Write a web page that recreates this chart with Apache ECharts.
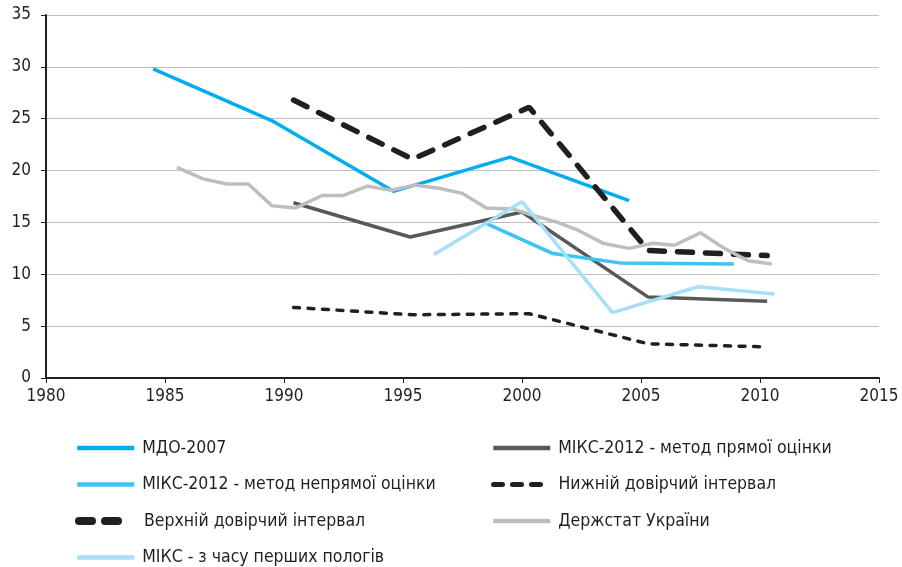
<!DOCTYPE html>
<html>
<head>
<meta charset="utf-8">
<script src="https://cdn.jsdelivr.net/npm/echarts@6/dist/echarts.min.js"></script>
<style>
  html, body { margin: 0; padding: 0; background: #fff; }
  #chart { width: 902px; height: 567px; }
</style>
</head>
<body>
<div id="chart"></div>
<script>
// x ticks / y ticks
const xTicks = [1980, 1985, 1990, 1995, 2000, 2005, 2010, 2015]
const yTicks = [0, 5, 10, 15, 20, 25, 30, 35]

// МДО-2007
const mdoYears = [1984.5, 1989.5, 1994.6, 1999.5, 2004.5]
const mdoValues = [29.8, 24.8, 18.0, 21.3, 17.1]

// МІКС-2012 - метод прямої оцінки
const directYears = [1990.4, 1995.3, 2000.0, 2005.3, 2010.3]
const directValues = [16.9, 13.6, 16.0, 7.8, 7.4]

// МІКС-2012 - метод непрямої оцінки
const indirectYears = [1998.4, 2001.3, 2004.1, 2008.9]
const indirectValues = [15.0, 12.0, 11.1, 11.0]

// Нижній довірчий інтервал
const lowerYears = [1990.4, 1995.4, 2000.3, 2005.3, 2010.3]
const lowerValues = [6.8, 6.1, 6.2, 3.3, 3.0]

// Верхній довірчий інтервал
const upperYears = [1990.4, 1995.4, 2000.3, 2005.3, 2010.3]
const upperValues = [26.8, 21.1, 26.1, 12.3, 11.8]

// Держстат України
const statYears = [1985.5, 1986.6, 1987.6, 1988.5, 1989.5, 1990.5, 1991.6, 1992.5, 1993.5, 1994.5,
  1995.5, 1996.5, 1997.5, 1998.5, 1999.6, 2000.6, 2001.5, 2002.4, 2003.4, 2004.5,
  2005.5, 2006.4, 2007.5, 2008.5, 2009.5, 2010.5]
const statValues = [20.3, 19.2, 18.7, 18.7, 16.6, 16.4, 17.6, 17.6, 18.5, 18.1,
  18.6, 18.3, 17.8, 16.4, 16.3, 15.6, 15.0, 14.2, 13.0, 12.5,
  13.0, 12.8, 14.0, 12.5, 11.3, 11.0]

// МІКС - з часу перших пологів
const firstYears = [1996.3, 2000.0, 2003.8, 2007.4, 2010.6]
const firstValues = [11.9, 17.0, 6.3, 8.8, 8.1]

// legend layout: left column / right column
const legendLeft = ['МДО-2007', 'МІКС-2012 - метод непрямої оцінки', 'Верхній довірчий інтервал', 'МІКС - з часу перших пологів']
const legendRight = ['МІКС-2012 - метод прямої оцінки', 'Нижній довірчий інтервал', 'Держстат України']

function zip(xs, ys) {
  return xs.map((x, i) => [x, ys[i]])
}

const font = '"Liberation Sans Narrow", "DejaVu Sans Condensed", sans-serif'
const textColor = '#231f20'

const chart = echarts.init(document.getElementById('chart'))

function lineSeries(name, data, color, width, type, cap) {
  return {
    name: name,
    type: 'line',
    data: data,
    symbol: 'none',
    showSymbol: false,
    animation: false,
    lineStyle: { color: color, width: width, type: type || 'solid', cap: cap || 'butt' },
    itemStyle: { color: color }
  }
}

// legend icon dashes differ from the plot lines a bit (round caps eat the gaps)
const legendDash = {
  'Верхній довірчий інтервал': { width: 8, type: [13, 13], cap: 'round' },
  'Нижній довірчий інтервал': { width: 5, type: [9, 10], cap: 'round' }
}
// upper CI icon is shorter, text still lines up with the others
const legendIconWidth = { 'Верхній довірчий інтервал': 40 }

// one legend box per entry so the rows keep the reference spacing
function legendItem(name, left, row) {
  const w = legendIconWidth[name] || 57
  return {
    left: left,
    top: 434 + row * 36.5,
    itemWidth: w,
    itemHeight: 14,
    itemStyle: { opacity: 0 },
    lineStyle: legendDash[name] || { width: 4.5 },
    textStyle: { fontFamily: font, fontSize: 17.5, color: textColor, padding: [0, 0, 0, 3 + 57 - w] },
    data: [name]
  }
}

const legends = legendLeft.map((n, i) => legendItem(n, 70, i))
  .concat(legendRight.map((n, i) => legendItem(n, 486, i)))

chart.setOption({
  animation: false,
  grid: { left: 46, right: 23, top: 15, bottom: 189 },
  legend: legends,
  xAxis: {
    type: 'value',
    min: xTicks[0],
    max: xTicks[xTicks.length - 1],
    interval: 5,
    axisLine: { lineStyle: { color: textColor, width: 2 } },
    axisTick: { show: true, length: 5, lineStyle: { color: textColor } },
    splitLine: { show: false },
    axisLabel: { color: textColor, fontFamily: font, fontSize: 17, margin: 10, formatter: v => String(v) }
  },
  yAxis: {
    type: 'value',
    min: yTicks[0],
    max: yTicks[yTicks.length - 1],
    interval: 5,
    axisLine: { show: true, lineStyle: { color: textColor, width: 2 } },
    axisTick: { show: true, length: 5, lineStyle: { color: textColor } },
    splitLine: { show: true, lineStyle: { color: '#bcbec0', width: 1 } },
    axisLabel: { color: textColor, fontFamily: font, fontSize: 17, margin: 15 }
  },
  series: [
    lineSeries('МДО-2007', zip(mdoYears, mdoValues), '#00aeef', 3.5),
    lineSeries('МІКС-2012 - метод прямої оцінки', zip(directYears, directValues), '#58595b', 3.5),
    lineSeries('МІКС-2012 - метод непрямої оцінки', zip(indirectYears, indirectValues), '#3ec3f2', 3.5),
    lineSeries('Нижній довірчий інтервал', zip(lowerYears, lowerValues), textColor, 3.5, [6, 8.5], 'round'),
    lineSeries('Верхній довірчий інтервал', zip(upperYears, upperValues), textColor, 5.5, [15, 13], 'round'),
    lineSeries('Держстат України', zip(statYears, statValues), '#bcbec0', 3.5),
    lineSeries('МІКС - з часу перших пологів', zip(firstYears, firstValues), '#a6dff7', 3.5)
  ]
})
</script>
</body>
</html>
